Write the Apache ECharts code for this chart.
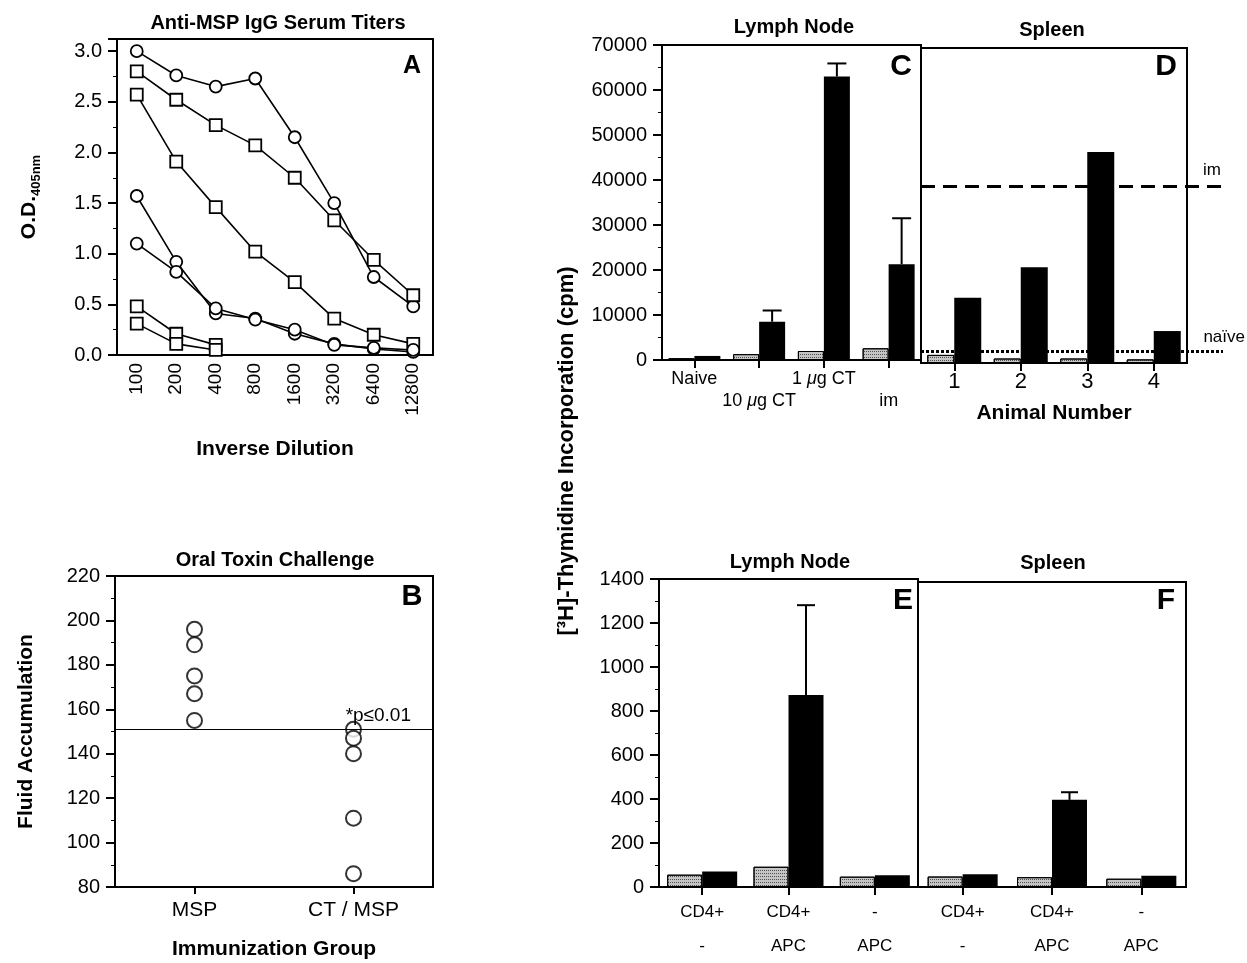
<!DOCTYPE html>
<html>
<head>
<meta charset="utf-8">
<script src="https://cdn.jsdelivr.net/npm/echarts/dist/echarts.min.js"></script>
<style>
  html, body { margin: 0; padding: 0; background: #fff; }
  #main { width: 1247px; height: 963px; }
</style>
</head>
<body>
<div id="main"></div>
<script>
// panel A - serum titers
var dilutions = ['100', '200', '400', '800', '1600', '3200', '6400', '12800'];
var circle1 = [3.00, 2.76, 2.65, 2.73, 2.15, 1.50, 0.77, 0.48];
var square1 = [2.80, 2.52, 2.27, 2.07, 1.75, 1.33, 0.94, 0.59];
var square2 = [2.57, 1.91, 1.46, 1.02, 0.72, 0.36, 0.20, 0.11];
var circle2 = [1.57, 0.92, 0.41, 0.36, 0.21, 0.11, 0.06, 0.03];
var circle3 = [1.10, 0.82, 0.46, 0.35, 0.25, 0.10, 0.07, 0.05];
var square3 = [0.48, 0.21, 0.10];
var square4 = [0.31, 0.11, 0.05];

// panel B - fluid accumulation
var groupsB = ['MSP', 'CT / MSP'];
var mspFluid = [196, 189, 175, 167, 155];
var ctMspFluid = [151, 147, 140, 111, 86];
var pLine = 151;

// panel C - lymph node
var cGroups = ['Naive', '10 μg CT', '1 μg CT', 'im'];
var cGrey = [400, 1300, 2000, 2600];
var cBlack = [900, 8500, 63000, 21300];
var cBlackErr = [null, 11000, 65900, 31500];

// panel D - spleen
var dAnimals = ['1', '2', '3', '4'];
var dGrey = [1800, 1000, 1000, 800];
var dBlack = [14500, 21300, 46900, 7100];
var imLevel = 39200;
var naiveLevel = 2700;

// panels E / F
var efTop = ['CD4+', 'CD4+', '-'];
var efBottom = ['-', 'APC', 'APC'];
var eGrey = [56, 92, 47];
var eBlack = [71, 873, 53];
var eBlackErr = [null, 1281, null];
var fGrey = [48, 45, 38];
var fBlack = [58, 400, 52];
var fBlackErr = [null, 435, null];

var FONT = "'Liberation Sans', Arial, Helvetica, sans-serif";
var chart = echarts.init(document.getElementById('main'));

function grid(left, top, width, height, show) {
  return { left: left, top: top, width: width, height: height, show: show !== false,
    borderColor: '#000', borderWidth: 2, backgroundColor: 'transparent' };
}
var axLine = { show: true, lineStyle: { color: '#000', width: 2 } };
var nameStyle = { fontSize: 21, fontWeight: 'bold', color: '#000', fontFamily: FONT };

function valAxis(g, min, max, interval, show, fmt) {
  return {
    type: 'value', gridIndex: g, min: min, max: max, interval: interval,
    splitLine: { show: false },
    axisLine: show ? axLine : { show: false },
    axisTick: { show: show, length: 9, lineStyle: { color: '#000', width: 2 } },
    minorTick: { show: show, splitNumber: 2, length: 4, lineStyle: { color: '#000', width: 1 } },
    axisLabel: { show: show, fontSize: 20, color: '#000', fontFamily: FONT, margin: 15,
      formatter: fmt || function (v) { return String(v); } }
  };
}

function catAxis(g, data, extra) {
  var a = {
    type: 'category', gridIndex: g, data: data, boundaryGap: true,
    axisLine: axLine,
    axisTick: { show: true, alignWithLabel: true, length: 8, lineStyle: { color: '#000', width: 2 } },
    axisLabel: { interval: 0, fontSize: 18, color: '#000', fontFamily: FONT, margin: 8 }
  };
  for (var k in extra) {
    if (k === 'axisLabel' || k === 'axisTick') {
      for (var j in extra[k]) a[k][j] = extra[k][j];
    } else a[k] = extra[k];
  }
  return a;
}

var greyStyle = {
  color: '#c4c4c4', borderColor: '#000', borderWidth: 1,
  decal: { symbol: 'rect', symbolSize: 1, dashArrayX: [1, 1], dashArrayY: [1, 2], color: 'rgba(40,40,40,0.75)' }
};

function aLine(data, sym) {
  return {
    type: 'line', xAxisIndex: 0, yAxisIndex: 0, data: data, symbol: sym,
    symbolSize: 12, showSymbol: true, z: 3,
    lineStyle: { color: '#000', width: 1.6 },
    itemStyle: { color: '#fff', borderColor: '#000', borderWidth: 1.8 }
  };
}

function bars(ax, grey, black, width) {
  return [
    { type: 'bar', xAxisIndex: ax, yAxisIndex: ax, data: grey, barWidth: width, barGap: '0%', itemStyle: greyStyle },
    { type: 'bar', xAxisIndex: ax, yAxisIndex: ax, data: black, barWidth: width, barGap: '0%', itemStyle: { color: '#000' } }
  ];
}

function errBars(ax, vals, errs, offset, cap) {
  var data = [];
  errs.forEach(function (e, i) { if (e != null) data.push([i, vals[i], e]); });
  return {
    type: 'custom', xAxisIndex: ax, yAxisIndex: ax, data: data, z: 5,
    renderItem: function (params, api) {
      var p0 = api.coord([api.value(0), api.value(1)]);
      var p1 = api.coord([api.value(0), api.value(2)]);
      var x = p0[0] + offset;
      var st = { stroke: '#000', lineWidth: 2 };
      return { type: 'group', children: [
        { type: 'line', shape: { x1: x, y1: p0[1], x2: x, y2: p1[1] }, style: st },
        { type: 'line', shape: { x1: x - cap / 2, y1: p1[1], x2: x + cap / 2, y2: p1[1] }, style: st }
      ] };
    }
  };
}

function txt(text, x, y, size, rot) {
  return { type: 'text', x: x, y: y, rotation: rot || 0, silent: true,
    style: { text: text, fill: '#000', font: 'bold ' + size + 'px ' + FONT, align: 'center', verticalAlign: 'middle' } };
}

var option = {
  animation: false,
  backgroundColor: '#fff',
  grid: [
    grid(117, 39, 316, 316),      // A
    grid(115, 576, 318, 311),     // B
    grid(662, 45, 259, 315),      // C
    grid(921, 48, 266, 315),      // D
    grid(921, 48, 302, 315, false), // D reference lines
    grid(659, 579, 259, 314),     // E
    grid(918, 582, 268, 314)      // F
  ],
  xAxis: [
    catAxis(0, dilutions, {
      axisTick: { show: false },
      axisLabel: { rotate: 90, fontSize: 19, margin: 8 },
      name: 'Inverse Dilution', nameLocation: 'middle', nameGap: 84, nameTextStyle: nameStyle
    }),
    catAxis(1, groupsB, {
      axisTick: { length: 7 },
      axisLabel: { fontSize: 21, margin: 13 },
      name: 'Immunization Group', nameLocation: 'middle', nameGap: 52, nameTextStyle: nameStyle
    }),
    catAxis(2, cGroups, {
      axisLabel: {
        fontSize: 18, lineHeight: 22, margin: 8,
        formatter: function (v, i) {
          var s = v.replace('μ', '{i|μ}');
          return i % 2 ? '\n' + s : s;
        },
        rich: { i: { fontStyle: 'italic', fontSize: 18, lineHeight: 22, fontFamily: FONT, color: '#000' } }
      }
    }),
    catAxis(3, dAnimals, {
      axisLabel: { fontSize: 22, margin: 8 },
      name: 'Animal Number', nameLocation: 'middle', nameGap: 40, nameTextStyle: nameStyle
    }),
    { type: 'value', gridIndex: 4, min: 0, max: 1, show: false },
    catAxis(5, efTop.map(function (t, i) { return t + '\n' + efBottom[i]; }), {
      axisLabel: { fontSize: 17, lineHeight: 34, margin: 8 }
    }),
    catAxis(6, efTop.map(function (t, i) { return t + '\n' + efBottom[i]; }), {
      axisLabel: { fontSize: 17, lineHeight: 34, margin: 8 }
    })
  ],
  yAxis: [
    (function () {
      var a = valAxis(0, 0, 3.12, 0.5, true, function (v) {
        return Math.abs(v * 2 - Math.round(v * 2)) < 1e-6 ? v.toFixed(1) : '';
      });
      a.name = '{a|O.D.}{b|405nm}';
      a.nameLocation = 'middle'; a.nameRotate = 90; a.nameGap = 74;
      a.nameTextStyle = { rich: {
        a: { fontSize: 21, fontWeight: 'bold', fontFamily: FONT, color: '#000', lineHeight: 28 },
        b: { fontSize: 13, fontWeight: 'bold', fontFamily: FONT, color: '#000', lineHeight: 13, verticalAlign: 'bottom' }
      } };
      return a;
    })(),
    (function () {
      var a = valAxis(1, 80, 220, 20, true);
      a.name = 'Fluid Accumulation';
      a.nameLocation = 'middle'; a.nameRotate = 90; a.nameGap = 78; a.nameTextStyle = nameStyle;
      return a;
    })(),
    valAxis(2, 0, 70000, 10000, true),
    valAxis(3, 0, 70000, 10000, false),
    valAxis(4, 0, 70000, 10000, false),
    valAxis(5, 0, 1400, 200, true),
    valAxis(6, 0, 1400, 200, false)
  ],
  series: [
    aLine(circle1, 'circle'),
    aLine(square1, 'rect'),
    aLine(square2, 'rect'),
    aLine(circle2, 'circle'),
    aLine(circle3, 'circle'),
    aLine(square3, 'rect'),
    aLine(square4, 'rect'),
    {
      type: 'scatter', xAxisIndex: 1, yAxisIndex: 1, symbol: 'circle', symbolSize: 15,
      data: mspFluid.map(function (v) { return [groupsB[0], v]; }).concat(
        ctMspFluid.map(function (v) { return [groupsB[1], v]; })),
      itemStyle: { color: '#fff', borderColor: '#000', borderWidth: 2 },
      markLine: {
        silent: true, symbol: 'none', data: [{ yAxis: pLine }],
        lineStyle: { color: '#000', width: 1, type: 'solid' },
        label: { show: true, position: 'insideEndTop', formatter: '*p≤0.01', color: '#000',
          fontSize: 19, fontFamily: FONT, distance: [22, 4] }
      }
    }
  ].concat(bars(2, cGrey, cBlack, 26))
   .concat([errBars(2, cBlack, cBlackErr, 13, 19)])
   .concat(bars(3, dGrey, dBlack, 27))
   .concat([{
      type: 'line', xAxisIndex: 4, yAxisIndex: 4, data: [],
      markLine: {
        silent: true, symbol: 'none',
        label: { show: true, position: 'insideEndTop', color: '#000', fontSize: 17, fontFamily: FONT },
        data: [
          { yAxis: imLevel, lineStyle: { color: '#000', width: 3, type: [14, 8] },
            label: { formatter: 'im', distance: [2, 8] } },
          { yAxis: naiveLevel, lineStyle: { color: '#000', width: 3, type: [3, 2] },
            label: { formatter: 'naïve', distance: [-22, 5] } }
        ]
      }
    }])
   .concat(bars(5, eGrey, eBlack, 35))
   .concat([errBars(5, eBlack, eBlackErr, 17.5, 18)])
   .concat(bars(6, fGrey, fBlack, 35))
   .concat([errBars(6, fBlack, fBlackErr, 17.5, 17)]),
  graphic: [
    txt('Anti-MSP IgG Serum Titers', 278, 23, 20),
    txt('Oral Toxin Challenge', 275, 560, 20),
    txt('Lymph Node', 794, 27, 20),
    txt('Spleen', 1052, 30, 20),
    txt('Lymph Node', 790, 562, 20),
    txt('Spleen', 1053, 563, 20),
    txt('A', 412, 66, 25),
    txt('B', 412, 597, 29),
    txt('C', 901, 67, 30),
    txt('D', 1166, 67, 30),
    txt('E', 903, 601, 30),
    txt('F', 1166, 601, 30),
    txt('[³H]-Thymidine Incorporation (cpm)', 567, 451, 22, Math.PI / 2)
  ]
};

chart.setOption(option);
</script>
</body>
</html>
